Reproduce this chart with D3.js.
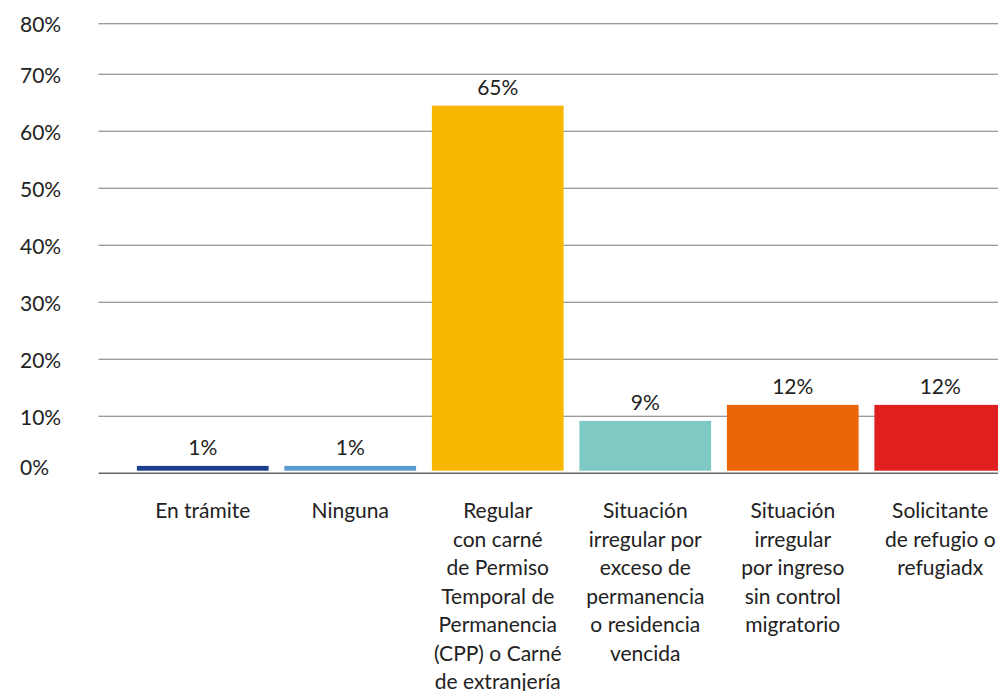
<!DOCTYPE html>
<html>
<head>
<meta charset="utf-8">
<script src="https://cdn.jsdelivr.net/npm/d3@7"></script>
<style>
  body { margin: 0; background: #fff; }
  svg text { font-family: Lato, "Open Sans", sans-serif; fill: #222; }
</style>
</head>
<body>
<div id="chart"></div>
<script>
  // data
  const categories = [
    ['En trámite'],
    ['Ninguna'],
    ['Regular', 'con carné', 'de Permiso', 'Temporal de', 'Permanencia', '(CPP) o Carné', 'de extranjería'],
    ['Situación', 'irregular por', 'exceso de', 'permanencia', 'o residencia', 'vencida'],
    ['Situación', 'irregular', 'por ingreso', 'sin control', 'migratorio'],
    ['Solicitante', 'de refugio o', 'refugiadx']
  ];
  const values = [1.3, 1.3, 64.5, 9.2, 12.0, 12.0];
  const valueLabels = ['1%', '1%', '65%', '9%', '12%', '12%'];
  const colors = ['#1b3f8e', '#5c9ad3', '#f8b800', '#7ec9c4', '#eb6608', '#e0201f'];
  const yTicks = [0, 10, 20, 30, 40, 50, 60, 70, 80];

  const width = 998, height = 691;
  const svg = d3.select('#chart').append('svg')
      .attr('width', width)
      .attr('height', height);

  const x = d3.scaleBand()
      .domain(d3.range(categories.length))
      .range([129, 1014])
      .paddingInner(0.107)
      .paddingOuter(0.0535);

  // top band of the original chart is a bit squeezed
  const y = d3.scaleLinear()
      .domain([0, 70, 80])
      .range([473.3, 74.3, 23.7]);

  // gridlines
  svg.selectAll('.grid')
    .data(yTicks.filter(d => d > 0))
    .enter().append('line')
      .attr('x1', 98.5)
      .attr('x2', width)
      .attr('y1', d => y(d))
      .attr('y2', d => y(d))
      .attr('stroke', '#7a7a7a')
      .attr('stroke-width', 1.1);

  // y labels
  svg.selectAll('.ylab')
    .data(yTicks)
    .enter().append('text')
      .attr('x', 20)
      .attr('y', d => y(d) + 1 - (d === 0 ? 7 : 0))
      .attr('dy', '0.35em')
      .style('font-size', '21px')
      .text(d => d + '%');

  // bars
  svg.selectAll('.bar')
    .data(values)
    .enter().append('rect')
      .attr('x', (d, i) => x(i))
      .attr('y', d => y(d))
      .attr('width', x.bandwidth())
      .attr('height', d => y(0) - y(d) - 2.6)
      .attr('fill', (d, i) => colors[i]);

  // baseline
  svg.append('line')
    .attr('x1', 98.5)
    .attr('x2', width)
    .attr('y1', y(0))
    .attr('y2', y(0))
    .attr('stroke', '#666')
    .attr('stroke-width', 1.6);

  // value labels
  svg.selectAll('.vlab')
    .data(values)
    .enter().append('text')
      .attr('x', (d, i) => x(i) + x.bandwidth() / 2)
      .attr('y', d => y(d) - 11)
      .attr('text-anchor', 'middle')
      .style('font-size', '21px')
      .text((d, i) => valueLabels[i]);

  // category labels
  const cat = svg.selectAll('.cat')
    .data(categories)
    .enter().append('text')
      .attr('text-anchor', 'middle')
      .style('font-size', '21px')
      .attr('transform', (d, i) => 'translate(' + (x(i) + x.bandwidth() / 2) + ',518)');

  cat.selectAll('tspan')
    .data(d => d)
    .enter().append('tspan')
      .attr('x', 0)
      .attr('y', (d, i) => i * 28.5)
      .text(d => d);
</script>
</body>
</html>
